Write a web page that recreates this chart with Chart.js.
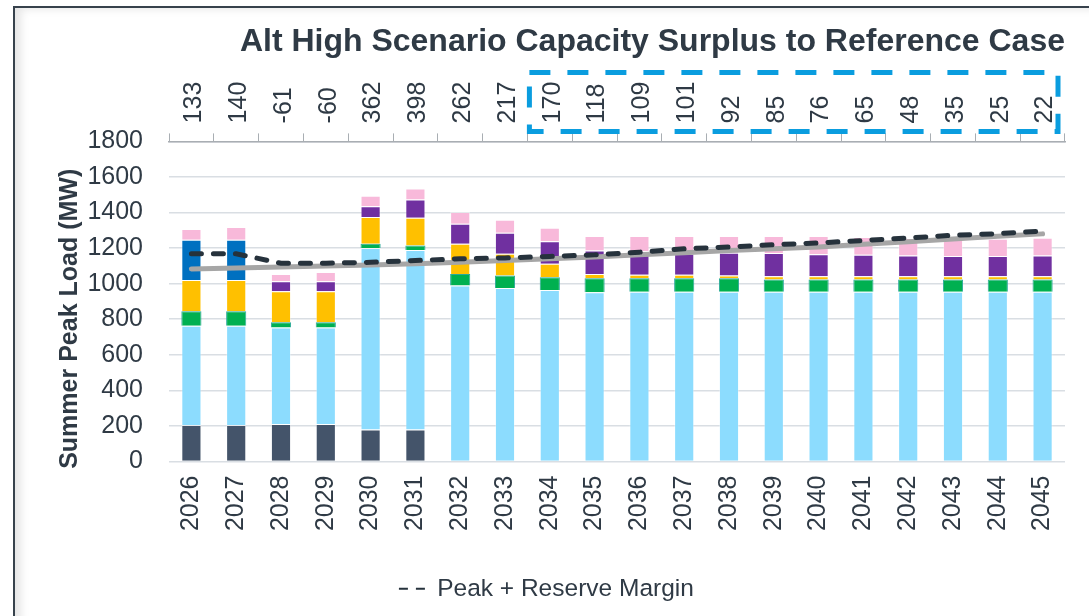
<!DOCTYPE html>
<html lang="en">
<head>
  <meta charset="UTF-8">
  <title>Alt High Scenario Capacity Surplus</title>
  <script src="https://cdn.jsdelivr.net/npm/chart.js"></script>
  <style>
    html, body { margin: 0; padding: 0; background: #fff; }
    #frame {
      position: absolute; left: 13px; top: 6px; width: 1076px; height: 610px;
      border-top: 2px solid #37424c; border-left: 2px solid #37424c;
      box-shadow: inset 10px 5px 9px -4px rgba(0,0,0,0.10);
    }
    #surplusChart { position: absolute; left: 0; top: 0; }
  </style>
</head>
<body>
  <div id="frame">
    <canvas id="surplusChart" width="1074" height="608"></canvas>
  </div>

  <script>
    // years on the bottom axis, surplus (MW) on the top axis
    const years = ['2026', '2027', '2028', '2029', '2030', '2031', '2032', '2033', '2034', '2035',
                   '2036', '2037', '2038', '2039', '2040', '2041', '2042', '2043', '2044', '2045'];
    const surplus = ['133', '140', '-61', '-60', '362', '398', '262', '217', '170', '118',
                     '109', '101', '92', '85', '76', '65', '48', '35', '25', '22'];
    // years framed by the blue dashed box
    const boxFrom = '2034';
    const boxTo = '2045';

    // stacked capacity segments (MW), bottom to top
    const slate     = [205, 205, 211, 211, 180, 180, 0, 0, 0, 0, 0, 0, 0, 0, 0, 0, 0, 0, 0, 0];
    const lightBlue = [559, 559, 543, 543, 1020, 1010, 989, 976, 965, 952, 955, 955, 955, 955, 955, 955, 955, 955, 955, 955];
    const green     = [81, 81, 29, 29, 25, 25, 66, 70, 71, 79, 76, 76, 76, 68, 68, 68, 68, 68, 68, 68];
    const yellow    = [176, 176, 174, 174, 150, 155, 170, 122, 76, 24, 19, 19, 15, 19, 19, 19, 19, 19, 19, 19];
    const blue      = [226, 226, 0, 0, 0, 0, 0, 0, 0, 0, 0, 0, 0, 0, 0, 0, 0, 0, 0, 0];
    const purple    = [0, 0, 57, 57, 60, 103, 112, 119, 126, 132, 132, 118, 128, 130, 124, 120, 117, 113, 113, 117];
    const pink      = [60, 72, 41, 51, 59, 62, 66, 73, 77, 81, 86, 100, 94, 96, 102, 100, 98, 98, 98, 99];

    // lines (MW)
    const peakLoad      = [1083, 1088, 1094, 1100, 1105, 1112, 1120, 1130, 1140, 1150,
                           1162, 1174, 1186, 1196, 1206, 1221, 1236, 1251, 1266, 1280];
    const peakReserve   = [1168, 1168, 1115, 1115, 1120, 1130, 1140, 1145, 1153, 1162,
                           1177, 1196, 1206, 1219, 1229, 1243, 1257, 1272, 1281, 1296];

    const textColor = '#2f3a45';
    const nbsp = '\u00a0';
    Chart.defaults.font.family = '"Liberation Sans", Arial, sans-serif';
    Chart.defaults.color = textColor;

    function bar(label, data, color, border) {
      return {
        type: 'bar', label: label, data: data, backgroundColor: color,
        borderColor: border || 'rgba(255,255,255,0.35)', borderWidth: 1,
        stack: 'cap', order: 2, barPercentage: 0.45, categoryPercentage: 1
      };
    }

    // dashed box round the later surplus labels
    const surplusBox = {
      id: 'surplusBox',
      afterDraw(chart) {
        const x = chart.scales.x;
        const half = (x.getPixelForValue(1) - x.getPixelForValue(0)) / 2;
        const left = x.getPixelForValue(years.indexOf(boxFrom)) - half + 2;
        const right = x.getPixelForValue(years.indexOf(boxTo)) + half - 7;
        const top = chart.chartArea.top - 69;
        const bottom = chart.chartArea.top - 10;
        const ctx = chart.ctx;
        ctx.save();
        ctx.strokeStyle = '#0a9ddf';
        ctx.lineWidth = 5;
        ctx.setLineDash([21, 17]);
        ctx.strokeRect(left, top, right - left, bottom - top);
        ctx.restore();
      }
    };

    const ctx = document.getElementById('surplusChart').getContext('2d');
    new Chart(ctx, {
      data: {
        labels: years,
        datasets: [
          bar('Existing', slate, '#44546a'),
          bar('Hydro', lightBlue, '#8cdcfe'),
          bar('Solar', green, '#00b050', '#2aa99a'),
          bar('Wind', yellow, '#ffc000'),
          bar('Contracts', blue, '#0070c0'),
          bar('Storage', purple, '#7030a0'),
          bar('DR', pink, '#f8b9da'),
          {
            type: 'line', label: 'Peak Load', data: peakLoad, stack: 'peak', order: 1,
            borderColor: '#a6a6a6', borderWidth: 5, pointRadius: 0, tension: 0,
            borderCapStyle: 'round'
          },
          {
            type: 'line', label: 'Peak + Reserve Margin', data: peakReserve, stack: 'prm', order: 0,
            borderColor: '#26323c', borderWidth: 5, borderDash: [10, 12], borderCapStyle: 'round',
            pointRadius: 0, tension: 0
          }
        ]
      },
      options: {
        responsive: false,
        animation: false,
        layout: { padding: { left: 40, right: 24, top: 0, bottom: 5 } },
        plugins: {
          title: {
            display: true,
            text: 'Alt High Scenario Capacity Surplus to Reference Case',
            align: 'end',
            color: textColor,
            font: { size: 32, weight: 'bold' },
            padding: { top: 15, bottom: 1 }
          },
          legend: {
            position: 'bottom',
            labels: {
              font: { size: 24.5 },
              color: textColor,
              usePointStyle: true,
              pointStyle: 'line',
              pointStyleWidth: 26,
              padding: 8,
              filter: item => item.text.trim() === 'Peak + Reserve Margin',
              generateLabels(chart) {
                const items = Chart.defaults.plugins.legend.labels.generateLabels(chart);
                items.forEach(it => {
                  it.lineWidth = 2; it.lineDash = [9, 8]; it.pointStyle = 'line';
                  it.text = it.text + nbsp.repeat(4);
                });
                return items;
              }
            }
          },
          tooltip: { enabled: false }
        },
        scales: {
          x: {
            stacked: true,
            position: 'bottom',
            grid: { display: false, drawTicks: false },
            border: { display: false },
            ticks: { minRotation: 90, maxRotation: 90, padding: 14, font: { size: 25 }, color: textColor },
            afterFit(scale) { scale.height = 107; }
          },
          x2: {
            type: 'category',
            labels: surplus,
            position: 'top',
            offset: true,
            grid: { offset: true, drawOnChartArea: false, drawTicks: true, tickLength: 8, color: '#a9aeb3', lineWidth: 1 },
            border: { display: true, color: '#a9aeb3', width: 1.5 },
            ticks: { minRotation: 90, maxRotation: 90, padding: 10, labelOffset: 33, font: { size: 25 }, color: textColor, autoSkip: false },
            afterFit(scale) { scale.height = 79; }
          },
          y: {
            stacked: true,
            min: 0,
            max: 1800,
            ticks: { stepSize: 200, padding: 26, font: { size: 25 }, color: textColor, callback: v => String(v) },
            grid: { color: '#d9dee3', lineWidth: 1.5, drawTicks: false },
            border: { display: false },
            title: {
              display: true,
              text: 'Summer Peak Load (MW)' + nbsp.repeat(5),
              font: { size: 25, weight: 'bold' },
              color: textColor,
              padding: 0
            },
            afterFit(scale) { scale.width = 114; }
          }
        }
      },
      plugins: [surplusBox]
    });
  </script>
</body>
</html>
